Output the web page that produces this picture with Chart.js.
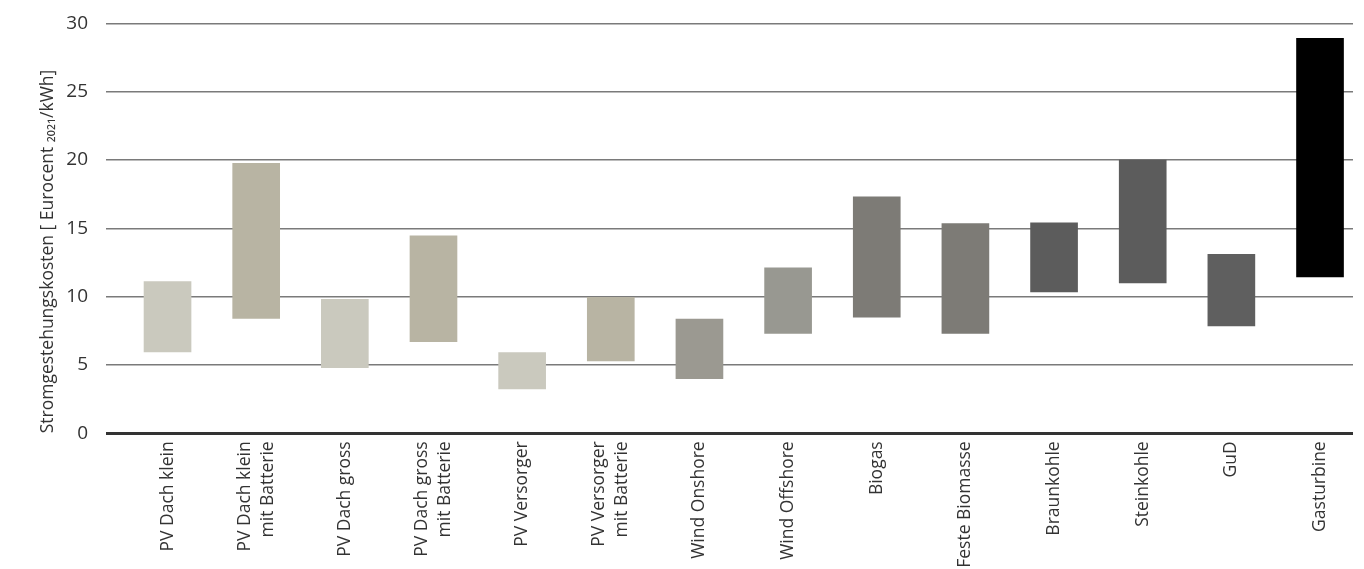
<!DOCTYPE html>
<html><head><meta charset="utf-8">
<script src="https://cdn.jsdelivr.net/npm/chart.js@4/dist/chart.umd.min.js"></script>
<style>html,body{margin:0;padding:0;background:#fff}#wrap{width:1364px;height:569px}</style>
</head><body><div id="wrap"><canvas id="c" width="1364" height="569"></canvas></div>
<script>
const categories = [
  "PV Dach klein", ["PV Dach klein","mit Batterie"], "PV Dach gross", ["PV Dach gross","mit Batterie"],
  "PV Versorger", ["PV Versorger","mit Batterie"], "Wind Onshore", "Wind Offshore", "Biogas",
  "Feste Biomasse", "Braunkohle", "Steinkohle", "GuD", "Gasturbine"
];
const lowValues  = [5.95, 8.4, 4.8, 6.7, 3.25, 5.3, 4.0, 7.3, 8.5, 7.3, 10.35, 11.0, 7.85, 11.45];
const highValues = [11.1, 19.75, 9.8, 14.45, 5.9, 9.95, 8.35, 12.1, 17.3, 15.35, 15.4, 20.0, 13.1, 28.9];
const barColors = ["#cac9be","#b8b4a3","#cac9be","#b8b4a3","#cac9be","#b8b4a3","#9b9991","#989891",
  "#7d7b76","#7d7b76","#5c5c5c","#5c5c5c","#5f5f5f","#000000"];
const yTicks = [0,5,10,15,20,25,30];
const yTitle = "Stromgestehungskosten [ Eurocent \u2082\u2080\u2082\u2081/kWh]";

const data = categories.map((c,i)=>({x:i, y:[lowValues[i], highValues[i]]}));
const FONT = "'Open Sans', 'DejaVu Sans', sans-serif";
const MULTI_SHIFT = -0.13; // centre two-line labels on their bar

new Chart(document.getElementById('c'), {
  type: 'bar',
  data: { datasets: [{ data, backgroundColor: barColors, borderWidth: 0, barThickness: 47 }] },
  options: {
    responsive: false, animation: false,
    layout: { padding: { top: 23.3, left: 28, right: 11, bottom: 0 } },
    plugins: { legend: { display: false }, tooltip: { enabled: false } },
    scales: {
      x: {
        type: 'linear', min: -0.694, max: 13.372, offset: false,
        afterBuildTicks: s => { s.ticks = categories.map((c,i)=>({value: Array.isArray(c) ? i + MULTI_SHIFT : i})); },
        afterFit: s => { s.height = 135.7; },
        grid: { display: false, drawTicks: false },
        border: { display: false },
        ticks: {
          autoSkip: false, maxRotation: 90, minRotation: 90, padding: 8,
          color: '#333', font: { family: FONT, size: 17.5, lineHeight: 1.32 },
          callback: v => categories[Math.round(v)]
        }
      },
      y: {
        min: 0, max: 30,
        afterBuildTicks: s => { s.ticks = yTicks.map(v=>({value:v})); },
        afterFit: s => { s.width = 78; s.paddingTop = 0; s.paddingBottom = 0; },
        grid: {
          drawTicks: false,
          color: ctx => ctx.tick && ctx.tick.value === 0 ? '#333' : '#7a7a7a',
          lineWidth: ctx => ctx.tick && ctx.tick.value === 0 ? 3 : 1.5
        },
        border: { display: false },
        ticks: { padding: 18, color: '#333', font: { family: FONT, size: 19 } },
        title: { display: true, text: yTitle, color: '#333', align: 'start', padding: { top: 10, bottom: 0 },
          font: { family: FONT, size: 17.5 } }
      }
    }
  }
});
</script></body></html>
